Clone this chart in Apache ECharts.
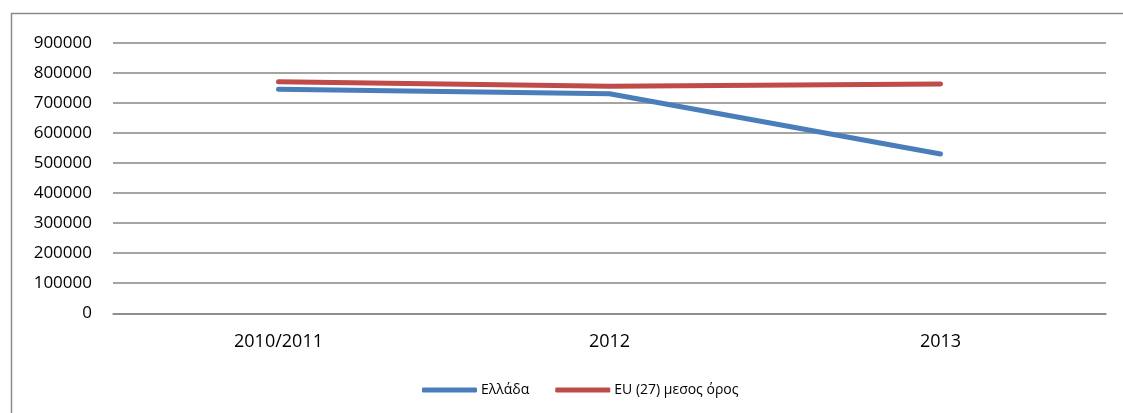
<!DOCTYPE html>
<html>
<head>
<meta charset="utf-8">
<script src="https://cdn.jsdelivr.net/npm/echarts@6/dist/echarts.min.js"></script>
<style>
  html, body { margin: 0; padding: 0; background: #fff; }
  #chart { width: 1123px; height: 413px; }
</style>
</head>
<body>
<div id="chart"></div>
<script>
// Categories and series values
const categories = ['2010/2011', '2012', '2013'];
const greece = [745000, 730000, 530000];
const euAverage = [770000, 755000, 763000];
const seriesNames = ['Ελλάδα', 'EU (27) μεσος όρος'];

const chart = echarts.init(document.getElementById('chart'));
const font = '"Open Sans", sans-serif';

chart.setOption({
  animation: false,
  backgroundColor: '#ffffff',
  graphic: [{
    type: 'rect',
    shape: { x: 11.5, y: 13.5, width: 1200, height: 500 },
    style: { fill: 'none', stroke: '#8a8a8a', lineWidth: 1.5 },
    silent: true
  }],
  grid: { left: 113, right: 17, top: 42.7, bottom: 99.7, containLabel: false },
  legend: {
    bottom: 11,
    left: 417,
    itemWidth: 55,
    itemHeight: 5,
    itemGap: 26,
    icon: 'roundRect',
    textStyle: { fontFamily: font, fontSize: 14, color: '#000', padding: [0, 0, 0, -1] },
    data: seriesNames
  },
  xAxis: {
    type: 'category',
    data: categories,
    boundaryGap: true,
    axisLine: { show: true, lineStyle: { color: '#868686', width: 1.5 } },
    axisTick: { show: false },
    axisLabel: { fontFamily: font, fontSize: 18, color: '#000', margin: 20 }
  },
  yAxis: {
    type: 'value',
    min: 0,
    max: 900000,
    interval: 100000,
    axisLine: { show: false },
    axisTick: { show: false },
    axisLabel: {
      fontFamily: font, fontSize: 17, color: '#000', margin: 21,
      formatter: v => String(v)
    },
    splitLine: { lineStyle: { color: '#868686', width: 1.5 } }
  },
  series: [
    {
      name: seriesNames[0],
      type: 'line',
      data: greece,
      symbol: 'none',
      lineStyle: { color: '#4A7EBB', width: 5, cap: 'round', join: 'round' },
      itemStyle: { color: '#4A7EBB' }
    },
    {
      name: seriesNames[1],
      type: 'line',
      data: euAverage,
      symbol: 'none',
      lineStyle: { color: '#BE4B48', width: 5, cap: 'round', join: 'round' },
      itemStyle: { color: '#BE4B48' }
    }
  ]
});
</script>
</body>
</html>
